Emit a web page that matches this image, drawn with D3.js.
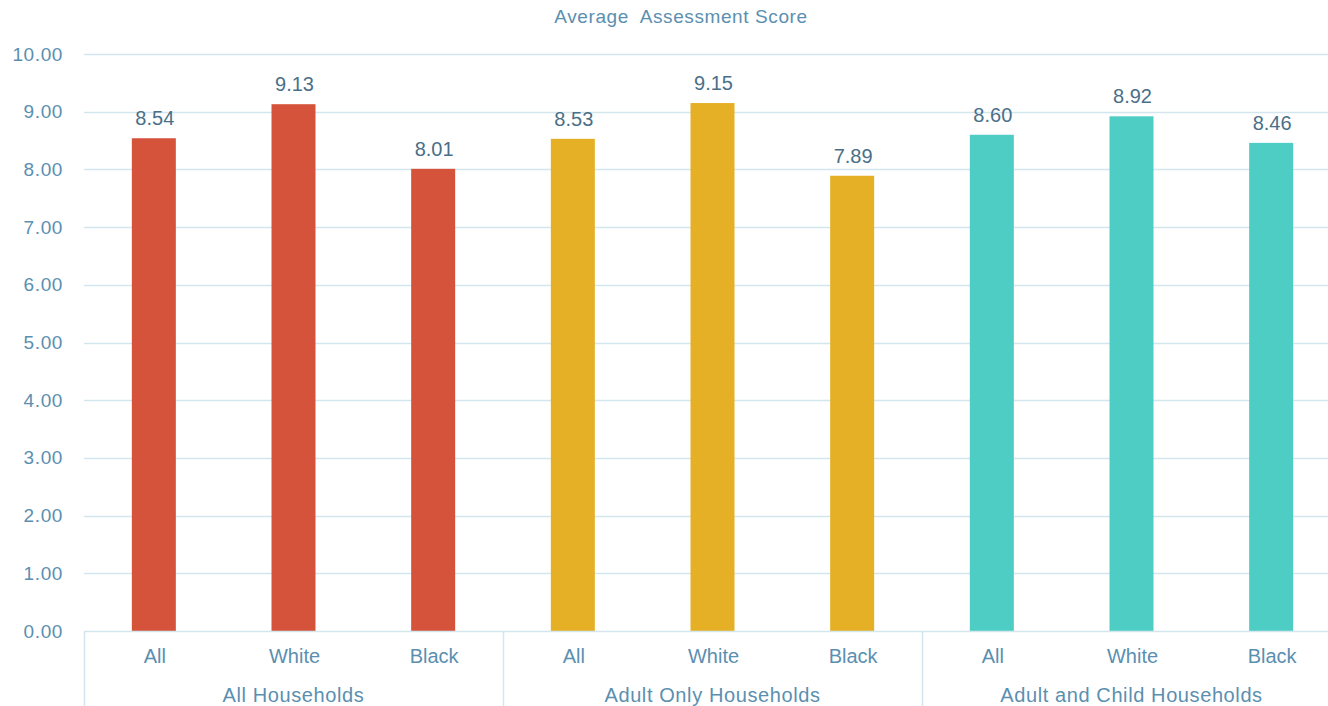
<!DOCTYPE html>
<html>
<head>
<meta charset="utf-8">
<script src="https://cdn.jsdelivr.net/npm/d3@7"></script>
<style>
  html, body { margin: 0; padding: 0; background: #fff; }
  svg { display: block; font-family: "Liberation Sans", Arial, sans-serif; }
</style>
</head>
<body>
<svg id="chart" width="1328" height="706"></svg>
<script>
// Household groups and the race breakdown within each
const groups = ["All Households", "Adult Only Households", "Adult and Child Households"];
const subgroups = ["All", "White", "Black"];
// Average assessment score, one row per household group
const allHouseholds = [8.54, 9.13, 8.01];
const adultOnly = [8.53, 9.15, 7.89];
const adultChild = [8.60, 8.92, 8.46];
const groupColors = ["#d4533a", "#e5b026", "#4ecdc4"];
const yTicks = [0, 1, 2, 3, 4, 5, 6, 7, 8, 9, 10];
const title = "Average  Assessment Score";

const seriesValues = [allHouseholds, adultOnly, adultChild];
const rows = [];
groups.forEach((g, gi) => subgroups.forEach((s, si) => {
  rows.push({ key: g + "|" + s, group: g, gi, sub: s, value: seriesValues[gi][si] });
}));

const svg = d3.select("#chart");
const margin = { left: 84, right: -13, top: 54, bottom: 75 };
const W = 1328, H = 706;
const x0 = margin.left, x1 = W - margin.right;
const yTop = margin.top, yBot = H - margin.bottom;

const x = d3.scaleBand().domain(rows.map(d => d.key)).range([x0, x1]).paddingInner(0.685).paddingOuter(0.3425);
const xg = d3.scaleBand().domain(groups).range([x0, x1]).padding(0);
const y = d3.scaleLinear().domain([0, 10]).range([yBot, yTop]);

const gridColor = "#d3e6ee";
const axisText = "#5b8fb0";
const labelText = "#4a6f88";

// Horizontal gridlines
svg.append("g").selectAll("line").data(yTicks.filter(t => t > 0)).join("line")
  .attr("x1", x0).attr("x2", W)
  .attr("y1", d => Math.round(y(d)) + 0.5).attr("y2", d => Math.round(y(d)) + 0.5)
  .attr("stroke", gridColor).attr("stroke-width", 1.5);

// Y axis tick labels
const yAxis = d3.axisLeft(y).tickValues(yTicks).tickFormat(d3.format(".2f")).tickSize(0).tickPadding(21);
const ya = svg.append("g").attr("transform", `translate(${x0},0)`).call(yAxis);
ya.select(".domain").remove();
ya.selectAll("text").attr("fill", axisText).attr("font-size", 19).attr("font-family", "Liberation Sans, Arial, sans-serif").style("letter-spacing", "0.6px");

// Bars
svg.append("g").selectAll("rect").data(rows).join("rect")
  .attr("x", d => x(d.key)).attr("width", x.bandwidth())
  .attr("y", d => y(d.value)).attr("height", d => y(0) - y(d.value))
  .attr("fill", d => groupColors[d.gi]);

// Value labels
svg.append("g").selectAll("text").data(rows).join("text")
  .attr("x", d => x(d.key) + x.bandwidth() / 2 + 1)
  .attr("y", d => y(d.value) - 13)
  .attr("text-anchor", "middle").attr("font-size", 20)
  .attr("fill", labelText)
  .text(d => d.value.toFixed(2));

// Baseline and group separators
svg.append("line").attr("x1", x0).attr("x2", W).attr("y1", yBot + 0.5).attr("y2", yBot + 0.5)
  .attr("stroke", gridColor).attr("stroke-width", 1.5);
svg.append("g").selectAll("line").data(groups).join("line")
  .attr("x1", d => Math.round(xg(d)) + 0.5).attr("x2", d => Math.round(xg(d)) + 0.5)
  .attr("y1", yBot).attr("y2", H)
  .attr("stroke", gridColor).attr("stroke-width", 1.5);

// Subgroup labels
svg.append("g").selectAll("text").data(rows).join("text")
  .attr("x", d => x(d.key) + x.bandwidth() / 2 + 1)
  .attr("y", yBot + 32)
  .attr("text-anchor", "middle").attr("font-size", 20)
  .attr("fill", axisText)
  .text(d => d.sub);

// Group labels
svg.append("g").selectAll("text").data(groups).join("text")
  .attr("x", d => xg(d) + xg.bandwidth() / 2)
  .attr("y", yBot + 71)
  .attr("text-anchor", "middle").attr("font-size", 20)
  .attr("fill", axisText).style("letter-spacing", "0.6px")
  .text(d => d);

// Title
svg.append("text").attr("x", 681).attr("y", 23).attr("text-anchor", "middle")
  .attr("font-size", 19).attr("fill", axisText).attr("xml:space", "preserve")
  .style("white-space", "pre").style("letter-spacing", "0.6px").text(title);
</script>
</body>
</html>
